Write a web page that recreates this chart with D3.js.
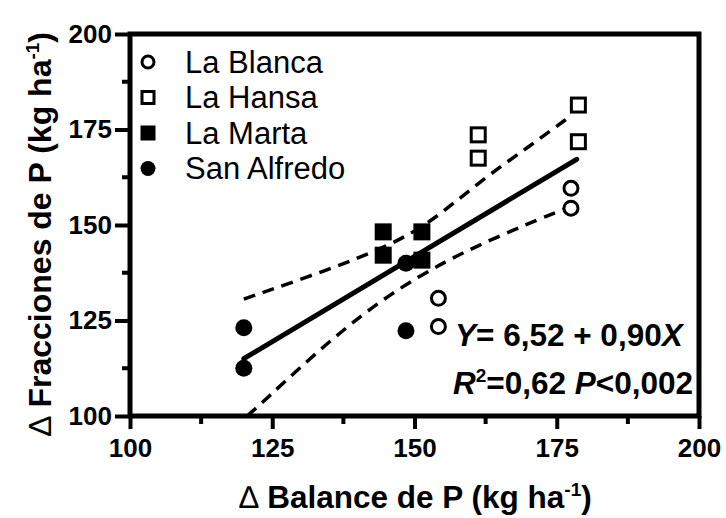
<!DOCTYPE html>
<html>
<head>
<meta charset="utf-8">
<script src="https://cdn.jsdelivr.net/npm/d3@7"></script>
<style>
  body { margin: 0; background: #fff; }
  svg { font-family: Arial, "Liberation Sans", sans-serif; }
</style>
</head>
<body>
<svg width="726" height="518"></svg>
<script>
// data
const laBlanca = [[177.5, 159.6], [177.5, 154.4], [154.2, 130.8], [154.2, 123.4]];
const laHansa = [[178.8, 181.4], [178.8, 171.8], [161.2, 173.6], [161.2, 167.5]];
const laMarta = [[144.5, 148.2], [144.5, 142.1], [151.3, 148.2], [151.3, 140.8]];
const sanAlfredo = [[120.0, 123.1], [120.0, 112.5], [148.5, 122.3], [148.5, 140.0]];

const fitLine = [[120, 115.0], [178.5, 167.2]];
const upperBand = [[120, 130.6], [135.1, 138.4], [145.1, 144.3], [152.7, 150.4], [161.5, 161.5], [170.3, 170.7], [177.5, 178.6]];
const lowerBand = [[120.6, 100], [123.4, 103.7], [135.1, 119.9], [145.7, 132.1], [155.7, 140.8], [164.5, 146.9], [174.4, 153.1], [177.5, 154.8]];

const majorTicks = [100, 125, 150, 175, 200];
const minorTicks = [112.5, 137.5, 162.5, 187.5];

const legendNames = ["La Blanca", "La Hansa", "La Marta", "San Alfredo"];
const legendShapes = ["openCircle", "openSquare", "filledSquare", "filledCircle"];

const svg = d3.select("svg");
const plotLeft = 130, plotRight = 699, plotTop = 34, plotBottom = 416;

const x = d3.scaleLinear().domain([100, 200]).range([plotLeft, plotRight]);
const y = d3.scaleLinear().domain([100, 200]).range([plotBottom, plotTop]);

const chart = svg.append("g");

// lines
const line = d3.line().x(d => x(d[0])).y(d => y(d[1]));
const curve = d3.line().x(d => x(d[0])).y(d => y(d[1])).curve(d3.curveBasis);

chart.append("path").attr("d", curve(upperBand))
    .attr("fill", "none").attr("stroke", "#000").attr("stroke-width", 3.5)
    .attr("stroke-dasharray", "12,8");
chart.append("path").attr("d", curve(lowerBand))
    .attr("fill", "none").attr("stroke", "#000").attr("stroke-width", 3.5)
    .attr("stroke-dasharray", "12,8");
chart.append("path").attr("d", line(fitLine))
    .attr("fill", "none").attr("stroke", "#000").attr("stroke-width", 5)
    .attr("stroke-linecap", "round");

// markers
function drawMarker(g, shape, cx, cy, s) {
    if (shape === "openCircle") {
        g.append("circle").attr("cx", cx).attr("cy", cy).attr("r", s / 2 - 1.5)
            .attr("fill", "#fff").attr("stroke", "#000").attr("stroke-width", 3);
    } else if (shape === "filledCircle") {
        g.append("circle").attr("cx", cx).attr("cy", cy).attr("r", s / 2)
            .attr("fill", "#000");
    } else if (shape === "openSquare") {
        g.append("rect").attr("x", cx - s / 2 + 1.5).attr("y", cy - s / 2 + 1.5)
            .attr("width", s - 3).attr("height", s - 3)
            .attr("fill", "#fff").attr("stroke", "#000").attr("stroke-width", 3);
    } else {
        g.append("rect").attr("x", cx - s / 2).attr("y", cy - s / 2)
            .attr("width", s).attr("height", s).attr("fill", "#000");
    }
}

const series = [laBlanca, laHansa, laMarta, sanAlfredo];
series.forEach((pts, i) => {
    pts.forEach(p => drawMarker(chart, legendShapes[i], x(p[0]), y(p[1]), 17));
});

// frame
chart.append("rect").attr("x", plotLeft).attr("y", plotTop)
    .attr("width", plotRight - plotLeft).attr("height", plotBottom - plotTop)
    .attr("fill", "none").attr("stroke", "#000").attr("stroke-width", 5);

// axes
const xAxis = d3.axisBottom(x).tickValues(majorTicks).tickSize(13).tickPadding(10).tickFormat(d3.format("d"));
const yAxis = d3.axisLeft(y).tickValues(majorTicks).tickSize(15).tickPadding(3).tickFormat(d3.format("d"));

const gx = chart.append("g").attr("transform", `translate(0,${plotBottom})`).call(xAxis);
gx.selectAll("line.minor").data(minorTicks).enter().append("line").attr("class", "minor")
    .attr("x1", d => x(d)).attr("x2", d => x(d)).attr("y1", 0).attr("y2", 8);
const gy = chart.append("g").attr("transform", `translate(${plotLeft},0)`).call(yAxis);
gy.selectAll("line.minor").data(minorTicks).enter().append("line").attr("class", "minor")
    .attr("y1", d => y(d)).attr("y2", d => y(d)).attr("x1", 0).attr("x2", -8);

[gx, gy].forEach(g => {
    g.select(".domain").remove();
    g.selectAll("line").attr("stroke", "#000").attr("stroke-width", 4);
    g.selectAll("text").attr("fill", "#000")
        .style("font-size", "26px").style("font-weight", "bold")
        .style("font-family", "Arial, 'Liberation Sans', sans-serif");
});

// legend
const legend = svg.append("g");
legendNames.forEach((name, i) => {
    const ly = 62 + i * 35.5;
    drawMarker(legend, legendShapes[i], 148, ly, 15);
    legend.append("text").attr("x", 185).attr("y", ly + 10.5)
        .style("font-size", "31px").text(name);
});

// axis titles
const xt = svg.append("text").attr("x", (plotLeft + plotRight) / 2 + 1).attr("y", 508)
    .attr("text-anchor", "middle").style("font-size", "31.5px").style("font-weight", "bold");
xt.append("tspan").style("font-weight", "normal").text("\u2206");
xt.append("tspan").text(" Balance de P (kg ha");
xt.append("tspan").attr("dy", -12).style("font-size", "19px").text("-1");
xt.append("tspan").attr("dy", 12).text(")");

const yt = svg.append("text").attr("transform", "translate(51,234) rotate(-90)")
    .attr("text-anchor", "middle").style("font-size", "32px").style("font-weight", "bold");
yt.append("tspan").style("font-weight", "normal").text("\u2206");
yt.append("tspan").text(" Fracciones de P (kg ha");
yt.append("tspan").attr("dy", -12).style("font-size", "19px").text("-1");
yt.append("tspan").attr("dy", 12).text(")");

// equation
const eq1 = svg.append("text").attr("x", 455).attr("y", 346)
    .style("font-size", "31.5px").style("font-weight", "bold");
eq1.append("tspan").style("font-style", "italic").text("Y");
eq1.append("tspan").text("= 6,52 + 0,90");
eq1.append("tspan").style("font-style", "italic").text("X");

const eq2 = svg.append("text").attr("x", 453).attr("y", 394)
    .style("font-size", "31.5px").style("font-weight", "bold");
eq2.append("tspan").style("font-style", "italic").text("R");
eq2.append("tspan").attr("dy", -12).style("font-size", "19px").text("2");
eq2.append("tspan").attr("dy", 12).text("=0,62 ");
eq2.append("tspan").style("font-style", "italic").text("P");
eq2.append("tspan").text("<0,002");
</script>
</body>
</html>
